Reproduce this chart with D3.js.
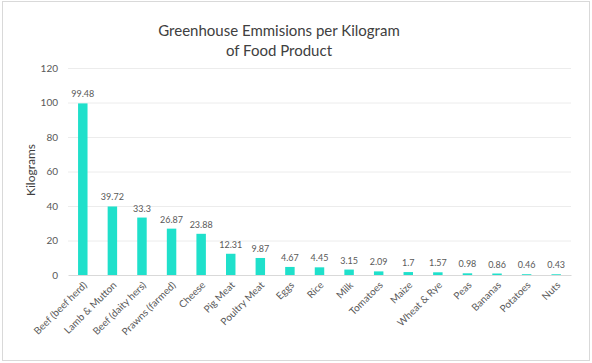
<!DOCTYPE html>
<html>
<head>
<meta charset="utf-8">
<script src="https://cdn.jsdelivr.net/npm/d3@7"></script>
<style>
  body { margin: 0; background: #fff; }
  svg { display: block; font-family: Lato, "Open Sans", sans-serif; }
</style>
</head>
<body>
<div id="chart"></div>
<script>
// data
var foods = ["Beef (beef herd)", "Lamb & Mutton", "Beef (daity hers)", "Prawns (farmed)", "Cheese",
  "Pig Meat", "Poultry Meat", "Eggs", "Rice", "Milk", "Tomatoes", "Maize", "Wheat & Rye",
  "Peas", "Bananas", "Potatoes", "Nuts"];
var emissions = [99.48, 39.72, 33.3, 26.87, 23.88, 12.31, 9.87, 4.67, 4.45, 3.15, 2.09, 1.7, 1.57,
  0.98, 0.86, 0.46, 0.43];
var yTicks = [0, 20, 40, 60, 80, 100, 120];

var width = 592, height = 363;
var margin = {top: 68, right: 21, bottom: 88, left: 68};
var innerW = width - margin.left - margin.right,
    innerH = height - margin.top - margin.bottom;

var svg = d3.select("#chart").append("svg")
    .attr("width", width)
    .attr("height", height);

// outer frame
svg.append("rect")
    .attr("x", 2.5).attr("y", 1.5)
    .attr("width", width - 5).attr("height", height - 4)
    .attr("fill", "#fff")
    .attr("stroke", "#d9d9d9");

// title
svg.append("text")
    .attr("x", 279).attr("y", 36)
    .attr("text-anchor", "middle")
    .attr("font-size", 15)
    .attr("fill", "#404040")
    .selectAll("tspan")
    .data(["Greenhouse Emmisions per Kilogram", "of Food Product"])
    .enter().append("tspan")
      .attr("x", 279)
      .attr("dy", (d, i) => i ? 20 : 0)
      .text(d => d);

var g = svg.append("g")
    .attr("transform", "translate(" + margin.left + "," + margin.top + ")");

var x = d3.scaleBand()
    .domain(foods)
    .range([0, innerW])
    .paddingInner(0.68)
    .paddingOuter(0.34);

var y = d3.scaleLinear()
    .domain([0, 120])
    .range([innerH, 0]);

// gridlines
g.append("g")
    .selectAll("line")
    .data(yTicks.slice(1))
    .enter().append("line")
      .attr("x1", 0).attr("x2", innerW)
      .attr("y1", d => y(d) + 0.5).attr("y2", d => y(d) + 0.5)
      .attr("stroke", "#ececec");

// left axis labels
var yAxis = g.append("g")
    .call(d3.axisLeft(y).tickValues(yTicks).tickSize(0).tickPadding(10));
yAxis.select(".domain").remove();
yAxis.selectAll("text")
    .attr("font-family", "Lato, sans-serif")
    .attr("font-size", 10)
    .attr("fill", "#595959");

// bars
g.append("g")
    .selectAll("rect")
    .data(foods)
    .enter().append("rect")
      .attr("x", d => x(d))
      .attr("width", x.bandwidth())
      .attr("y", (d, i) => y(emissions[i]))
      .attr("height", (d, i) => innerH - y(emissions[i]))
      .attr("fill", "#1fe0cb");

// value labels
g.append("g")
    .selectAll("text")
    .data(foods)
    .enter().append("text")
      .attr("x", d => x(d) + x.bandwidth() / 2)
      .attr("y", (d, i) => y(emissions[i]) - 6)
      .attr("text-anchor", "middle")
      .attr("font-size", 9)
      .attr("fill", "#595959")
      .text((d, i) => emissions[i]);

// bottom axis
var xAxis = g.append("g")
    .attr("transform", "translate(0," + innerH + ")")
    .call(d3.axisBottom(x).tickSize(0).tickPadding(8));
xAxis.select(".domain")
    .attr("stroke", "#d9d9d9");
xAxis.selectAll("text")
    .attr("font-family", "Lato, sans-serif")
    .attr("font-size", 10)
    .attr("fill", "#595959")
    .attr("text-anchor", "end")
    .attr("dy", "0.3em")
    .attr("transform", "translate(-3,3) rotate(-45)");

// y axis title
svg.append("text")
    .attr("transform", "translate(35,170) rotate(-90)")
    .attr("text-anchor", "middle")
    .attr("font-size", 12)
    .attr("fill", "#404040")
    .text("Kilograms");
</script>
</body>
</html>
